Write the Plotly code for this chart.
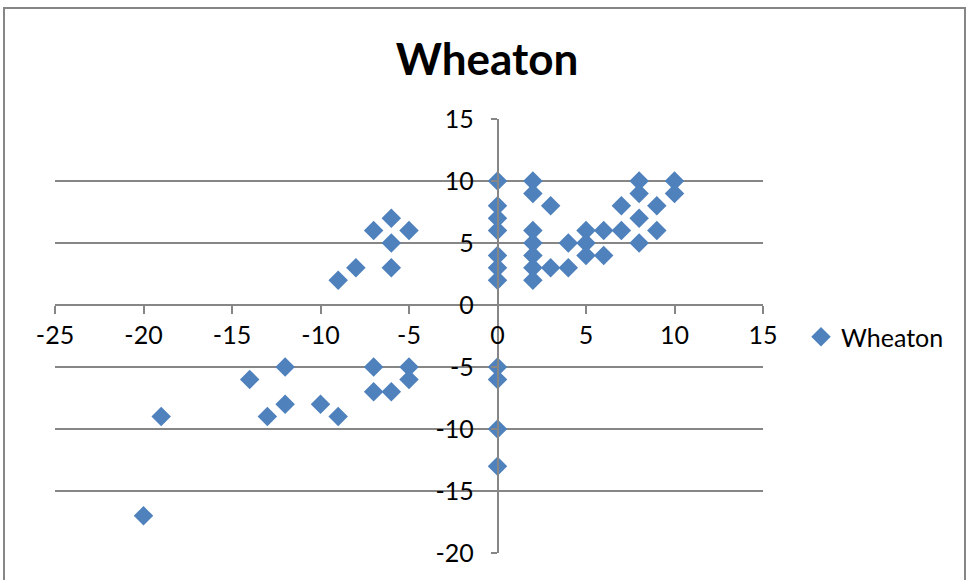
import plotly.graph_objects as go

# Wheaton scatter data (x, y pairs)
x_vals = [
    0, 0, 0, 0, 0, 0, 0,
    2, 2, 2, 2, 2, 2, 2,
    3, 3, 4, 4, 5, 5, 5, 6, 6, 7, 7, 8, 8, 8, 8, 9, 9, 10, 10,
    -9, -8, -6, -6, -7, -6, -5,
    -20, -19, -14, -12, -12, -13, -10, -9, -7, -7, -6, -5, -5,
    0, 0, 0, 0,
]
y_vals = [
    10, 8, 7, 6, 4, 3, 2,
    10, 9, 6, 5, 4, 3, 2,
    8, 3, 5, 3, 6, 5, 4, 6, 4, 8, 6, 10, 9, 7, 5, 8, 6, 10, 9,
    2, 3, 3, 5, 6, 7, 6,
    -17, -9, -6, -5, -8, -9, -8, -9, -5, -7, -7, -5, -6,
    -5, -6, -10, -13,
]

series_name = "Wheaton"
chart_title = "Wheaton"
x_ticks = [-25, -20, -15, -10, -5, 0, 5, 10, 15]
y_ticks = [-20, -15, -10, -5, 0, 5, 10, 15]
x_range = [x_ticks[0], x_ticks[-1]]
y_range = [y_ticks[0], y_ticks[-1]]

W, H = 967, 580
M_L, M_R, M_T, M_B = 55, 204, 119, 27
plot_w = W - M_L - M_R
plot_h = H - M_T - M_B

GRAY = "#868686"
BLUE = "#4F81BD"
FONT = "Lato"

# the axes cross at zero, like a spreadsheet scatter chart
x_axis_pos = (0 - y_range[0]) / (y_range[1] - y_range[0])
y_axis_pos = (0 - x_range[0]) / (x_range[1] - x_range[0])

fig = go.Figure()
fig.add_trace(go.Scatter(
    x=x_vals, y=y_vals, mode="markers", name=series_name,
    marker=dict(symbol="diamond", size=15, color=BLUE, line=dict(width=0)),
    cliponaxis=False,
))


def px_to_paper_x(px):
    return (px - M_L) / plot_w


def px_to_paper_y(py):
    return (H - M_B - py) / plot_h


def labels(vals):
    # plain hyphen-minus for negative numbers
    return [str(v) for v in vals]


fig.update_layout(
    width=W, height=H,
    margin=dict(l=M_L, r=M_R, t=M_T, b=M_B),
    paper_bgcolor="white", plot_bgcolor="white",
    title=dict(
        text=f"<b>{chart_title}</b>", x=487 / W, xref="container",
        y=1 - 60 / H, yref="container", xanchor="center", yanchor="middle",
        font=dict(family=FONT, size=44, color="black"),
    ),
    showlegend=True,
    legend=dict(
        x=801 / W, xref="container", y=1 - 337 / H, yref="container",
        xanchor="left", yanchor="middle",
        font=dict(family=FONT, size=25, color="black"),
        bgcolor="rgba(0,0,0,0)", borderwidth=0,
    ),
    xaxis=dict(
        range=x_range, tickmode="array", tickvals=x_ticks,
        ticktext=labels(x_ticks),
        showgrid=False, zeroline=False,
        showline=True, linecolor=GRAY, linewidth=1.5,
        anchor="free", position=x_axis_pos,
        ticks="outside", ticklen=8, tickcolor=GRAY, tickwidth=1.5,
        tickfont=dict(family=FONT, size=25, color="black"),
    ),
    yaxis=dict(
        range=y_range, tickmode="array", tickvals=y_ticks,
        ticktext=labels(y_ticks),
        showgrid=True, gridcolor=GRAY, gridwidth=1.5, zeroline=False,
        showline=True, linecolor=GRAY, linewidth=1.5,
        anchor="free", position=y_axis_pos,
        ticks="outside", ticklen=6, tickcolor=GRAY, tickwidth=1.5,
        ticklabelstandoff=12,
        tickfont=dict(family=FONT, size=25, color="black"),
    ),
    shapes=[dict(
        type="rect", xref="paper", yref="paper",
        x0=px_to_paper_x(4), x1=px_to_paper_x(965),
        y0=px_to_paper_y(600), y1=px_to_paper_y(8),
        line=dict(color=GRAY, width=2), fillcolor="rgba(0,0,0,0)",
        layer="below",
    )],
)

fig.write_html("out.html")
